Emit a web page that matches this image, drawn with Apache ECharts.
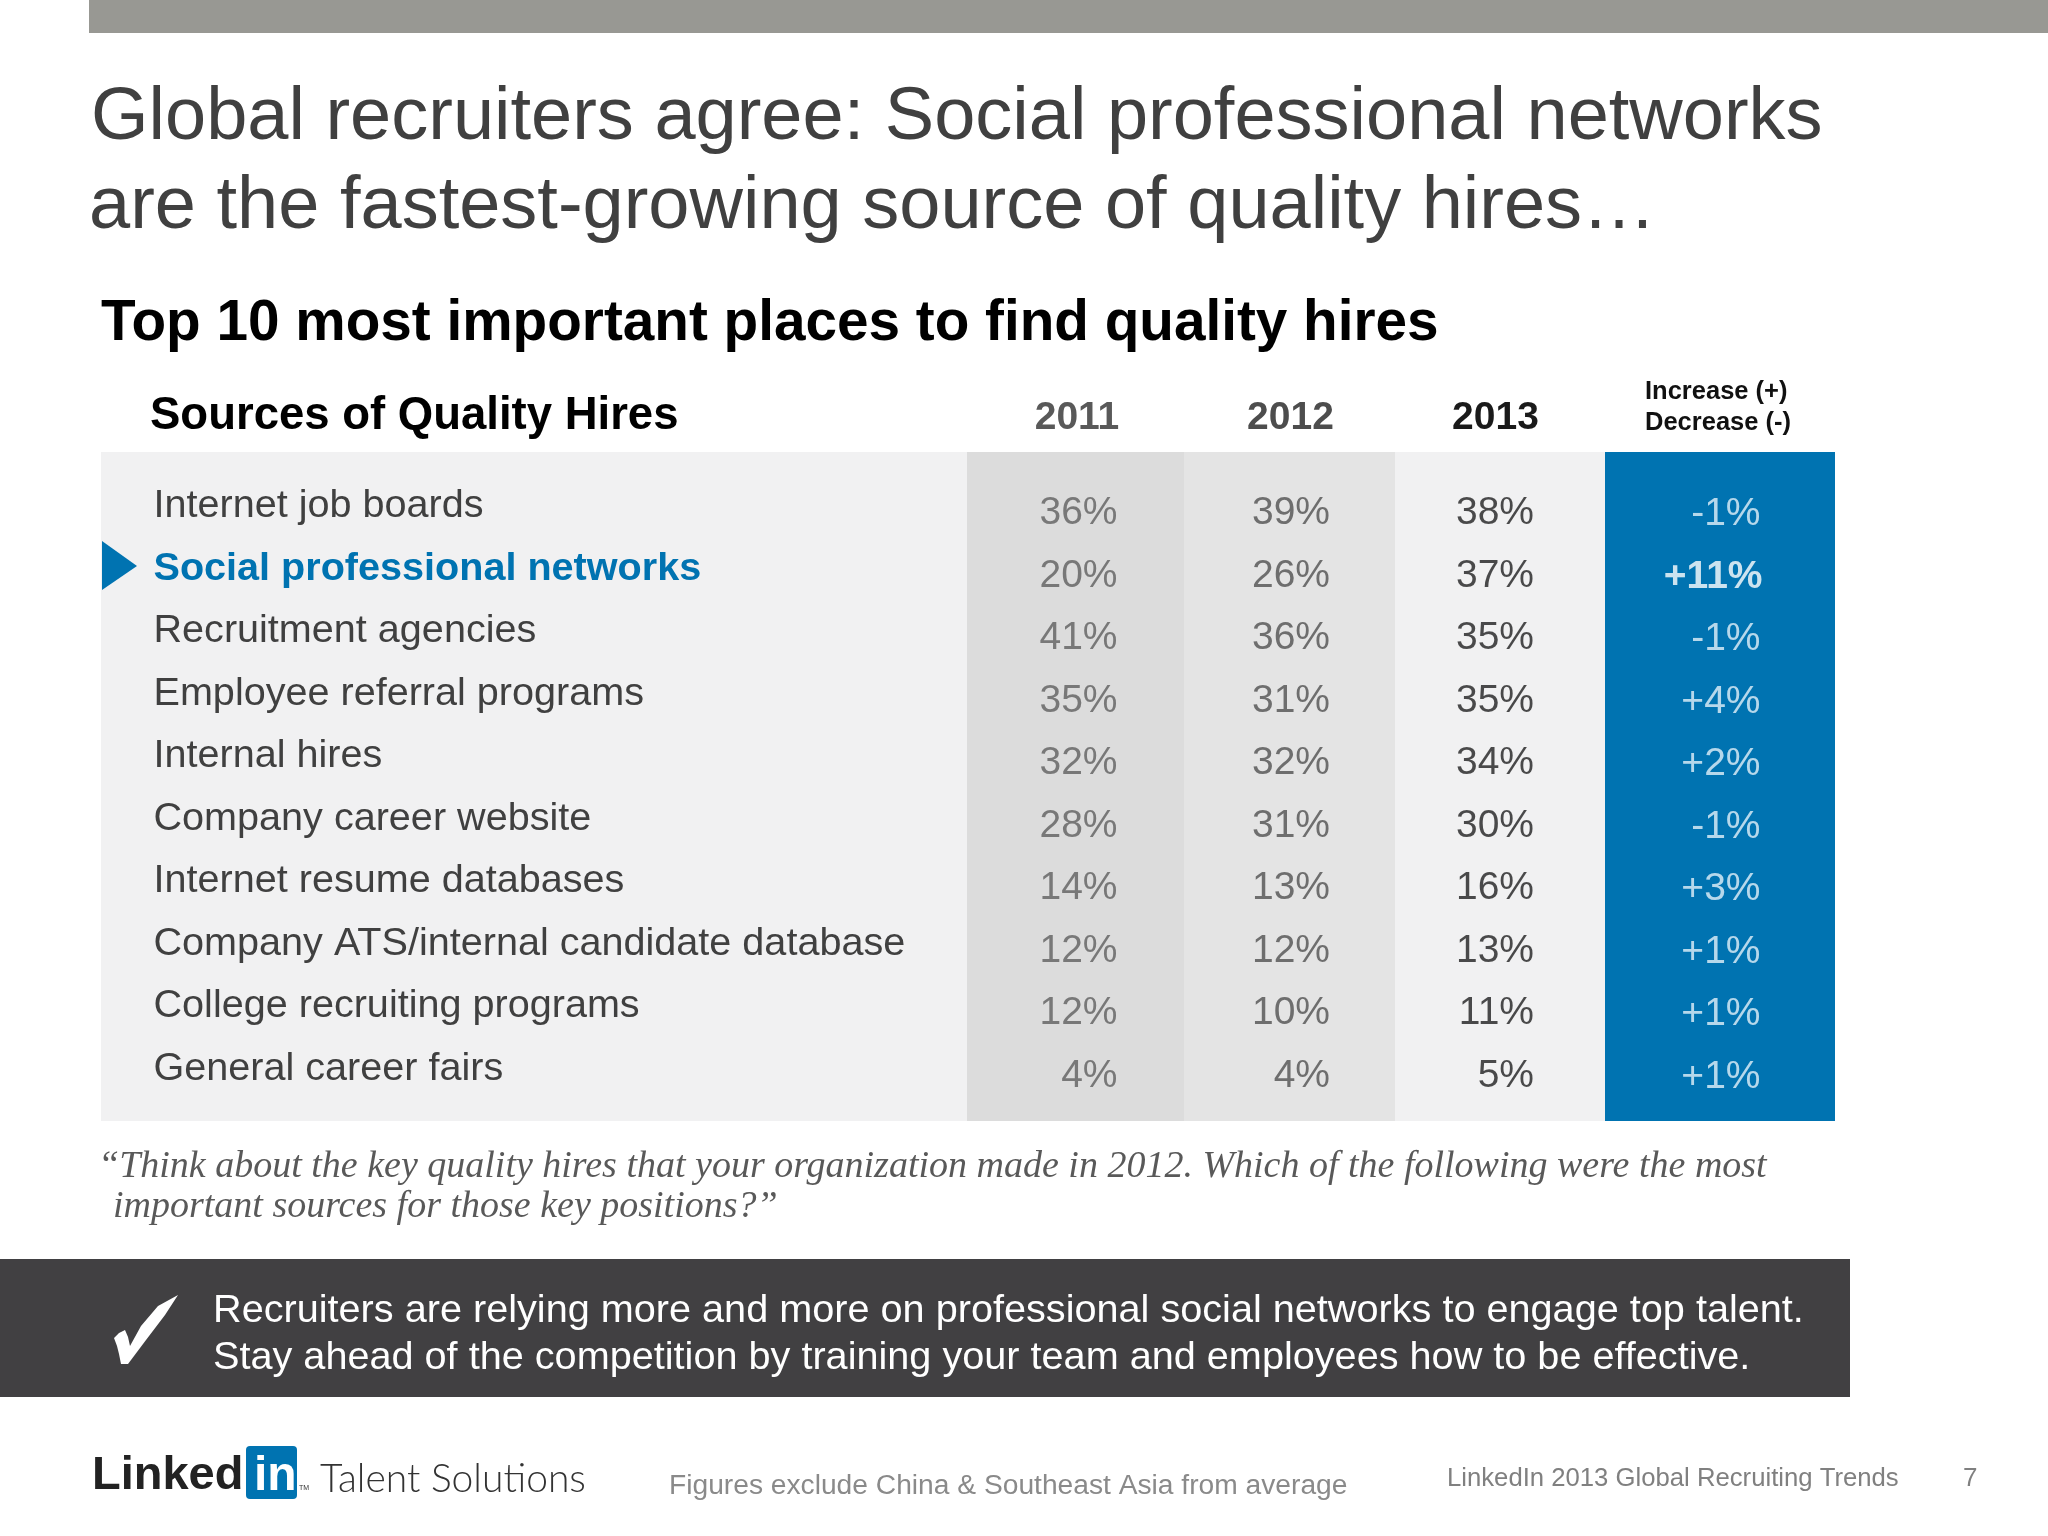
<!DOCTYPE html>
<html>
<head>
<meta charset="utf-8">
<style>html,body{margin:0;padding:0;background:#fff}#c{width:2048px;height:1536px}</style>
<script src="https://cdn.jsdelivr.net/npm/echarts@6/dist/echarts.min.js"></script>
</head>
<body>
<div id="c"></div>
<script>
var sources = ['Internet job boards','Social professional networks','Recruitment agencies','Employee referral programs','Internal hires','Company career website','Internet resume databases','Company ATS/internal candidate database','College recruiting programs','General career fairs'];
var share2011 = [36,20,41,35,32,28,14,12,12,4];
var share2012 = [39,26,36,31,32,31,13,12,10,4];
var share2013 = [38,37,35,35,34,30,16,13,11,5];
var changes = [-1,11,-1,4,2,-1,3,1,1,1];
var years = ['2011','2012','2013'];
var highlighted = 'Social professional networks';
var SANS = '"Liberation Sans", Arial, sans-serif';
var SERIF = '"Liberation Serif", serif';
var BLUE = '#0073B1';

var ROW_TOP = 482, ROW_H = 625;
var columns = [
  {name:years[0], data:share2011, left:967,  width:217, bg:'#dcdcdc', color:'#5f5f5f', head:'#595959', edge:42, pad:[0,0,0,3]},
  {name:years[1], data:share2012, left:1184, width:211, bg:'#e4e4e4', color:'#505050', head:'#4d4d4d', edge:40.5, pad:[0,0,0,2]},
  {name:years[2], data:share2013, left:1395, width:210, bg:'#f1f1f2', color:'#1f1f1f', head:'#1a1a1a', edge:34, pad:[0,9,0,0]},
  {name:'Change', data:changes,   left:1605, width:230, bg:BLUE,     color:'#e3f1fa', head:'transparent', edge:40.5, pad:[0,0,0,0]}
];

var grids = [{left:153.5, top:ROW_TOP-7, width:800, height:ROW_H}];
var xAxes = [{gridIndex:0, type:'category', data:[''], show:false}];
var yAxes = [{gridIndex:0, type:'category', inverse:true, data:sources,
  axisLine:{show:false}, axisTick:{show:false},
  axisLabel:{inside:true, margin:0, align:'left',
    formatter:function(v){return v===highlighted ? '{hl|'+v+'}' : '{n|'+v+'}';},
    rich:{
      n:{fontFamily:SANS, fontSize:39.6, color:'#404040'},
      hl:{fontFamily:SANS, fontSize:39.6, fontWeight:'bold', color:BLUE}
    }}}];
var series = [];
var panels = [];
columns.forEach(function(col,k){
  var g = k+1;
  panels.push({type:'rect', z:0, shape:{x:col.left,y:452,width:col.width,height:669}, style:{fill:col.bg}});
  grids.push({left:col.left, top:ROW_TOP, width:col.width, height:ROW_H});
  xAxes.push({gridIndex:g, type:'category', position:'top', data:[col.name],
    axisLine:{show:false}, axisTick:{show:false},
    axisLabel:{show:k<3, margin:44, fontFamily:SANS, fontSize:39, fontWeight:'bold', color:col.head, padding:col.pad}});
  yAxes.push({gridIndex:g, type:'category', inverse:true, data:sources, show:false});
  series.push({type:'scatter', name:col.name, xAxisIndex:g, yAxisIndex:g, symbolSize:0, silent:true,
    data:col.data.map(function(v,i){
      var isChange = k===3, hi = isChange && sources[i]===highlighted;
      return {value:[0,i,v], label:{
        formatter: isChange ? (v>0?'+':'')+v+'%' : v+'%',
        fontWeight: hi?'bold':'normal',
        color: hi?'#ffffff':col.color,
        offset:[col.edge + (hi?2:0), isChange?1:0]
      }};
    }),
    label:{show:true, position:'inside', align:'right', verticalAlign:'middle', fontFamily:SANS, fontSize:39}
  });
});

function txt(x,y,t,size,color,extra){
  return {type:'text', x:x, y:y, z:5, silent:true, style:Object.assign({text:t, font:size+'px '+SANS, fill:color, verticalAlign:'middle'},extra||{})};
}
var graphic = panels.concat([
  {type:'rect', z:0, shape:{x:89,y:0,width:1959,height:33}, style:{fill:'#989893'}},
  {type:'rect', z:0, shape:{x:101,y:452,width:866,height:669}, style:{fill:'#f1f1f2'}},
  {type:'polygon', z:1, shape:{points:[[102,541],[137,566],[102,590]]}, style:{fill:BLUE}},
  {type:'rect', z:0, shape:{x:0,y:1259,width:1850,height:138}, style:{fill:'#414042'}},
  {type:'polygon', z:3, shape:{points:[[114,1338],[119,1333],[125,1330],[128,1337],[130,1346],[141,1326],[158,1306],[178,1295],[165,1315],[146,1340],[128,1364],[121,1364],[119,1354],[117,1346]]}, style:{fill:'#ffffff'}},
  txt(91,119,'Global recruiters agree: Social professional networks',74,'#404040'),
  txt(89,208,'are the fastest-growing source of quality hires\u2026',74,'#404040'),
  txt(101,324,'Top 10 most important places to find quality hires',56.7,'#000000',{font:'bold 56.7px '+SANS}),
  txt(150,416,'Sources of Quality Hires',45.5,'#000000',{font:'bold 45.5px '+SANS}),
  txt(1645,392,'Increase (+)',25.5,'#111111',{font:'bold 25.5px '+SANS}),
  txt(1645,423,'Decrease (-)',25.5,'#111111',{font:'bold 25.5px '+SANS}),
  txt(98,1167,'\u201CThink about the key quality hires that your organization made in 2012. Which of the following were the most',38,'#595959',{font:'italic 38px '+SERIF}),
  txt(113,1207,'important sources for those key positions?\u201D',38,'#595959',{font:'italic 38px '+SERIF}),
  txt(213,1311,'Recruiters are relying more and more on professional social networks to engage top talent.',39.65,'#ffffff'),
  txt(213,1358,'Stay ahead of the competition by training your team and employees how to be effective.',39.65,'#ffffff'),
  txt(92,1476,'Linked',47,'#222222',{font:'bold 47px '+SANS}),
  {type:'rect', z:1, shape:{x:246,y:1446,width:51,height:53,r:4}, style:{fill:BLUE}},
  txt(254,1477,'in',48,'#ffffff',{font:'bold 48px '+SANS}),
  txt(299,1488,'TM',7,'#333333'),
  txt(320,1479,'Talent Solutions',39,'#333333',{font:'300 39px Lato, sans-serif'}),
  txt(669,1486,'Figures exclude China & Southeast Asia from average',28.2,'#8a8a8a',{font:'28.2px '+SANS}),
  txt(1447,1479,'LinkedIn 2013 Global Recruiting Trends',25.7,'#808080'),
  txt(1963,1479,'7',26,'#808080')
]);

var chart = echarts.init(document.getElementById('c'), null, {renderer:'canvas', width:2048, height:1536});
chart.setOption({
  animation:false,
  backgroundColor:'#ffffff',
  grid:grids, xAxis:xAxes, yAxis:yAxes, series:series, graphic:graphic
});
</script>
</body>
</html>
